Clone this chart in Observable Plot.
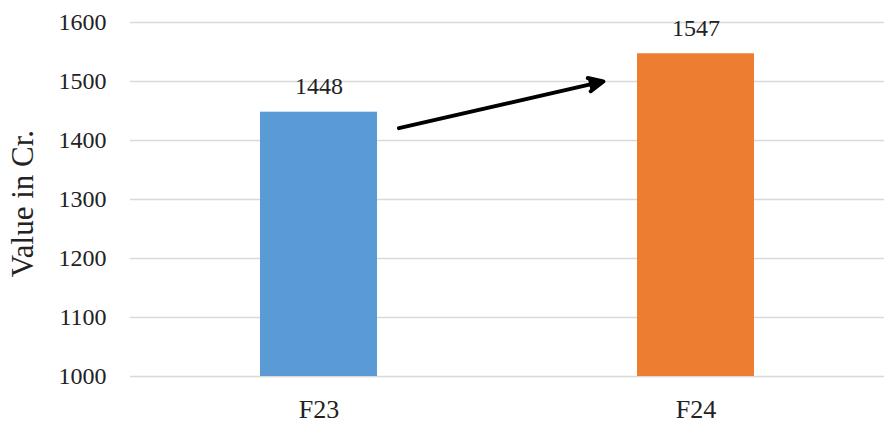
<!DOCTYPE html>
<html>
<head>
<meta charset="utf-8">
<script src="https://cdn.jsdelivr.net/npm/d3@7"></script>
<script src="https://cdn.jsdelivr.net/npm/@observablehq/plot@0.6"></script>
<style>
  html, body { margin: 0; padding: 0; background: #fff; }
  #chart svg { display: block; }
</style>
</head>
<body>
<div id="chart"></div>
<script>
// Fiscal years and their values (in crore)
const years = ["F23", "F24"];
const values = [1448, 1547];
const barColors = ["#5B9BD5", "#ED7D31"];
const yTicks = [1000, 1100, 1200, 1300, 1400, 1500, 1600];
const yTitle = ["Value in Cr."];

// Growth arrow between the two bars
const arrowFrom = ["F23"];
const arrowTo = ["F24"];
const arrowStart = [1390];
const arrowEnd = [1536];

const bars = years.map((year, i) => ({year, value: values[i], color: barColors[i]}));
const arrows = arrowFrom.map((from, i) => ({from, to: arrowTo[i], start: arrowStart[i], end: arrowEnd[i]}));

const font = '"Liberation Serif", "Times New Roman", serif';
const ink = "#222";
const size = 24;

const chart = Plot.plot({
  width: 884,
  height: 424,
  marginLeft: 130,
  marginRight: 0,
  marginTop: 22,
  marginBottom: 48,
  style: {fontFamily: font, fontSize: `${size}px`, color: ink, background: "#fff"},
  x: {domain: years, paddingInner: 0.69, paddingOuter: 0.345},
  y: {domain: [1000, 1600]},
  marks: [
    Plot.gridY(yTicks, {stroke: "#d9d9d9", strokeOpacity: 1, strokeWidth: 1.5}),
    Plot.barY(bars, {x: "year", y1: 1000, y2: "value", fill: "color"}),
    Plot.text(bars, {x: "year", y: "value", text: d => String(d.value), dy: -18, lineAnchor: "bottom", fill: ink, fontSize: size}),
    // filled head: the open wing path is closed implicitly when filled
    Plot.arrow(arrows, {
      x1: "from", x2: "to", y1: "start", y2: "end",
      stroke: "#000", fill: "#000", strokeWidth: 4, strokeLinejoin: "miter",
      insetStart: 82, insetEnd: 95, headAngle: 50, headLength: 6
    }),
    Plot.axisY({ticks: yTicks, tickFormat: d => String(d), tickSize: 0, tickPadding: 24, fontSize: size, fill: ink, label: null}),
    // rotated y-axis title at the left edge
    Plot.text(yTitle, {frameAnchor: "left", text: d => d, rotate: -90, textAnchor: "middle", dx: -107, dy: 4, fontSize: 31, fill: ink}),
    Plot.axisX({tickSize: 0, tickPadding: 23, label: null, fontSize: 26, fill: ink})
  ]
});

document.getElementById("chart").append(chart);
</script>
</body>
</html>
